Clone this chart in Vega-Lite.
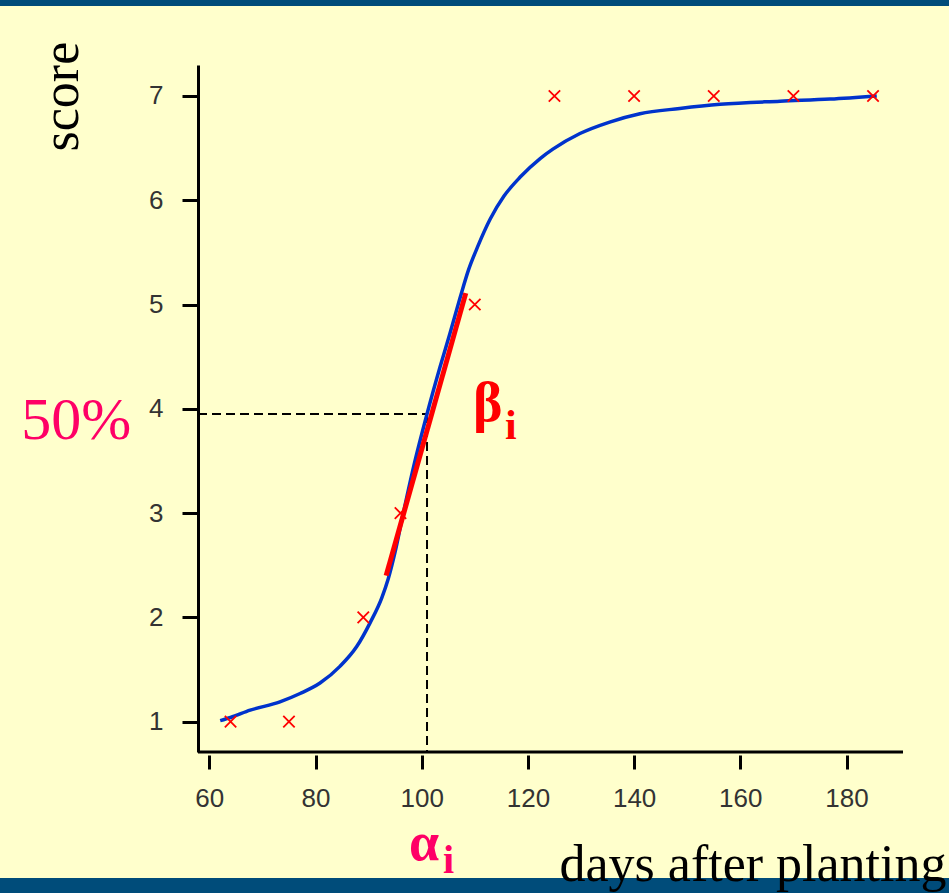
{
  "$schema": "https://vega.github.io/schema/vega-lite/v6.json",
  "width": 705,
  "height": 687,
  "autosize": {"type": "none"},
  "padding": {"left": 198, "top": 65, "right": 46, "bottom": 141},
  "background": "#FFFFCC",
  "config": {"view": {"stroke": null}, "axis": {"grid": false}},
  "data": {"values": [{}]},
  "datasets": {
    "points": [
      {"day": 64, "score": 1}, {"day": 75, "score": 1}, {"day": 89, "score": 2},
      {"day": 96, "score": 3}, {"day": 110, "score": 5}, {"day": 125, "score": 7},
      {"day": 140, "score": 7}, {"day": 155, "score": 7}, {"day": 170, "score": 7},
      {"day": 185, "score": 7}
    ],
    "curve": [
      {"day": 62.05, "score": 1.01}, {"day": 64, "score": 1.04}, {"day": 67.7, "score": 1.11},
      {"day": 73.3, "score": 1.19}, {"day": 77.1, "score": 1.27}, {"day": 80.85, "score": 1.37},
      {"day": 84.6, "score": 1.53}, {"day": 87.76, "score": 1.72}, {"day": 90.3, "score": 1.95},
      {"day": 92.5, "score": 2.19}, {"day": 93.7, "score": 2.37}, {"day": 95, "score": 2.63},
      {"day": 96.2, "score": 2.92}, {"day": 98.5, "score": 3.45}, {"day": 101, "score": 3.95},
      {"day": 103.45, "score": 4.4}, {"day": 105.3, "score": 4.72}, {"day": 107.2, "score": 5.06},
      {"day": 108.8, "score": 5.33}, {"day": 110.5, "score": 5.55}, {"day": 112.9, "score": 5.82},
      {"day": 115.5, "score": 6.04}, {"day": 118.5, "score": 6.22}, {"day": 122.3, "score": 6.4},
      {"day": 124.7, "score": 6.49}, {"day": 129.8, "score": 6.64}, {"day": 135.4, "score": 6.75},
      {"day": 141.1, "score": 6.83}, {"day": 148.6, "score": 6.88}, {"day": 156.2, "score": 6.92},
      {"day": 167.5, "score": 6.95}, {"day": 176.9, "score": 6.97}, {"day": 185.7, "score": 7.0}
    ],
    "tangent": [
      {"day": 93.3, "score": 2.4}, {"day": 108.3, "score": 5.11}
    ],
    "guides": [
      {"day": 57.87, "day2": 101, "score": 3.95, "score2": 3.95},
      {"day": 101, "day2": 101, "score": 3.95, "score2": 0.709}
    ]
  },
  "layer": [
    {
      "mark": {"type": "rule", "color": "#004C7A", "strokeWidth": 6, "clip": false},
      "encoding": {
        "x": {"datum": 15, "type": "quantitative"},
        "x2": {"datum": 205},
        "y": {"datum": 7.892, "type": "quantitative"}
      }
    },
    {
      "mark": {"type": "rule", "color": "#004C7A", "strokeWidth": 15, "clip": false},
      "encoding": {
        "x": {"datum": 15, "type": "quantitative"},
        "x2": {"datum": 205},
        "y": {"datum": -0.571, "type": "quantitative"}
      }
    },
    {
      "mark": {"type": "rule", "color": "black", "strokeWidth": 3, "clip": false},
      "encoding": {
        "x": {"datum": 57.87, "type": "quantitative"},
        "x2": {"datum": 190.64},
        "y": {"datum": 0.709, "type": "quantitative"}
      }
    },
    {
      "data": {"name": "guides"},
      "mark": {"type": "rule", "color": "black", "strokeWidth": 2, "strokeDash": [9, 5]},
      "encoding": {
        "x": {"field": "day", "type": "quantitative"},
        "x2": {"field": "day2"},
        "y": {"field": "score", "type": "quantitative"},
        "y2": {"field": "score2"}
      }
    },
    {
      "data": {"name": "curve"},
      "mark": {"type": "line", "color": "#0033CC", "strokeWidth": 3.5, "interpolate": "monotone"},
      "encoding": {
        "x": {"field": "day", "type": "quantitative"},
        "y": {"field": "score", "type": "quantitative"}
      }
    },
    {
      "data": {"name": "tangent"},
      "mark": {"type": "line", "color": "#FF0000", "strokeWidth": 5},
      "encoding": {
        "x": {"field": "day", "type": "quantitative"},
        "y": {"field": "score", "type": "quantitative"}
      }
    },
    {
      "data": {"name": "points"},
      "mark": {"type": "point", "shape": "M-1,-1L1,1M-1,1L1,-1", "filled": false, "color": "#FF0000", "strokeWidth": 1.8, "size": 130, "opacity": 1},
      "encoding": {
        "x": {
          "field": "day", "type": "quantitative",
          "scale": {"domain": [57.87, 190.64], "nice": false, "zero": false},
          "axis": {
            "orient": "bottom", "offset": 3, "domain": false, "grid": false,
            "ticks": true, "tickSize": 14, "tickWidth": 3, "tickColor": "black",
            "values": [60, 80, 100, 120, 140, 160, 180], "format": "d",
            "labelFont": "Liberation Sans", "labelFontSize": 26, "labelColor": "#333333", "labelPadding": 16,
            "labelFlush": false, "labelOverlap": false,
            "title": "days after planting", "titleFont": "Liberation Serif", "titleFontSize": 52,
            "titleFontWeight": "normal", "titleColor": "black", "titleX": 748, "titleY": 125,
            "titleAlign": "right", "titleBaseline": "alphabetic", "zindex": 1
          }
        },
        "y": {
          "field": "score", "type": "quantitative",
          "scale": {"domain": [0.709, 7.297], "nice": false, "zero": false},
          "axis": {
            "orient": "left", "domain": true, "domainColor": "black", "domainWidth": 3, "grid": false,
            "ticks": true, "tickSize": 16, "tickWidth": 3, "tickColor": "black",
            "values": [1, 2, 3, 4, 5, 6, 7], "format": "d",
            "labelFont": "Liberation Sans", "labelFontSize": 26, "labelColor": "#333333", "labelPadding": 19,
            "title": "score", "titleFont": "Liberation Serif", "titleFontSize": 52, "titleFontWeight": "normal",
            "titleColor": "black", "titleAngle": 270, "titleX": -121, "titleY": 86,
            "titleAlign": "left", "titleBaseline": "alphabetic", "zindex": 1
          }
        }
      }
    },
    {
      "mark": {"type": "text", "text": "50%", "font": "Liberation Serif", "fontSize": 60, "color": "#FF0066", "align": "left", "baseline": "alphabetic", "clip": false},
      "encoding": {
        "x": {"datum": 24.6, "type": "quantitative"},
        "y": {"datum": 3.711, "type": "quantitative"}
      }
    },
    {
      "mark": {"type": "text", "text": "α", "font": "Liberation Serif", "fontWeight": "bold", "fontSize": 54, "color": "#FF0066", "align": "left", "baseline": "alphabetic", "clip": false},
      "encoding": {
        "x": {"datum": 97.6, "type": "quantitative"},
        "y": {"datum": -0.326, "type": "quantitative"}
      }
    },
    {
      "mark": {"type": "text", "text": "i", "font": "Liberation Serif", "fontWeight": "bold", "fontSize": 40, "color": "#FF0066", "align": "left", "baseline": "alphabetic", "clip": false},
      "encoding": {
        "x": {"datum": 104.0, "type": "quantitative"},
        "y": {"datum": -0.451, "type": "quantitative"}
      }
    },
    {
      "mark": {"type": "text", "text": "β", "font": "Liberation Serif", "fontWeight": "bold", "fontSize": 56, "color": "#FF0000", "align": "left", "baseline": "alphabetic", "clip": false},
      "encoding": {
        "x": {"datum": 109.66, "type": "quantitative"},
        "y": {"datum": 3.884, "type": "quantitative"}
      }
    },
    {
      "mark": {"type": "text", "text": "i", "font": "Liberation Serif", "fontWeight": "bold", "fontSize": 42, "color": "#FF0000", "align": "left", "baseline": "alphabetic", "clip": false},
      "encoding": {
        "x": {"datum": 115.69, "type": "quantitative"},
        "y": {"datum": 3.711, "type": "quantitative"}
      }
    }
  ]
}
